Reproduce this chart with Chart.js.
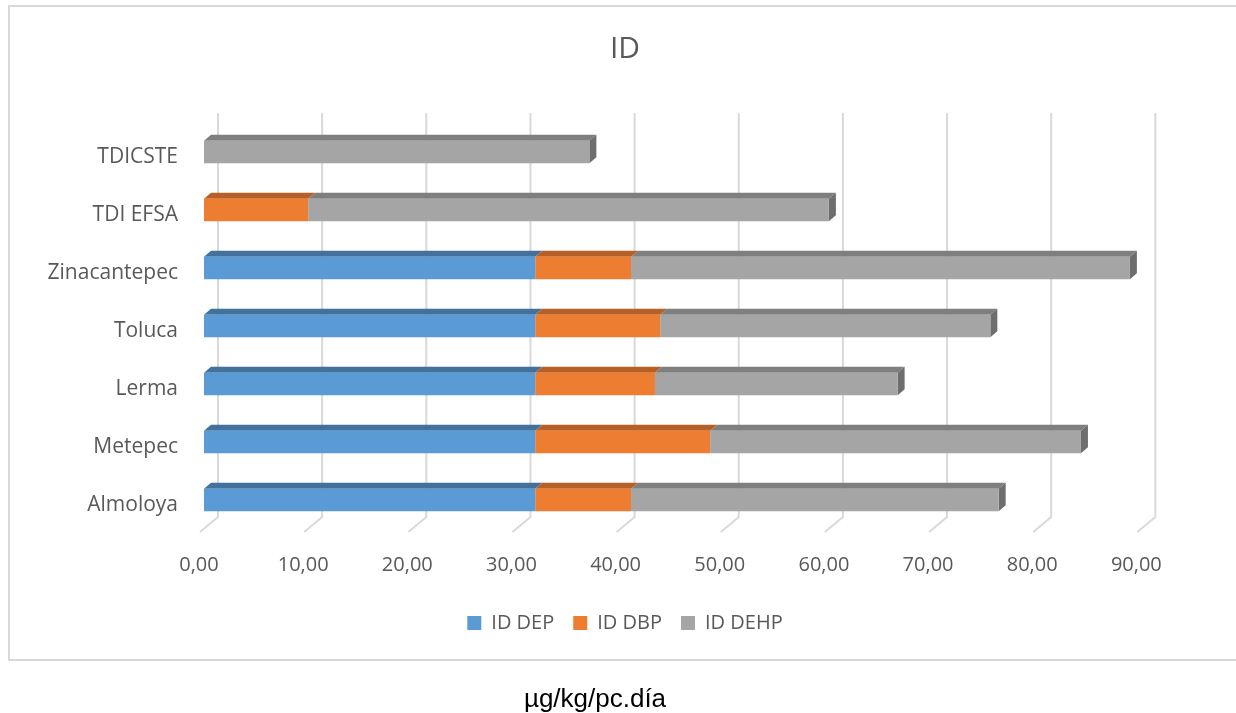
<!DOCTYPE html>
<html>
<head>
<meta charset="utf-8">
<title>ID</title>
<script src="https://cdn.jsdelivr.net/npm/chart.js"></script>
<style>
  html, body { margin: 0; padding: 0; background: #fff; overflow: hidden; }
  #frame { position: absolute; left: 8px; top: 5px; width: 1240px; height: 656px; border: 2px solid #d9d9d9; box-sizing: border-box; }
  #wrap { position: absolute; left: 0; top: 0; width: 1236px; height: 713px; }
  #unit { position: absolute; left: 0; width: 1190px; top: 685px; text-align: center;
          font: 26px/26px "Liberation Sans", Arial, sans-serif; color: #000; }
</style>
</head>
<body>
<div id="frame"></div>
<div id="wrap"><canvas id="myChart"></canvas></div>
<div id="unit">µg/kg/pc.día</div>
<script>
'use strict';

// data (Excel order, bottom to top)
const categories = ['Almoloya', 'Metepec', 'Lerma', 'Toluca', 'Zinacantepec', 'TDI EFSA', 'TDICSTE'];
const seriesNames = ['ID DEP', 'ID DBP', 'ID DEHP'];
const idDEP  = [31.8, 31.8, 31.8, 31.8, 31.8, 0, 0];
const idDBP  = [9.2, 16.8, 11.5, 12.0, 9.2, 10, 0];
const idDEHP = [35.3, 35.6, 23.3, 31.7, 47.9, 50, 37];
const xTickLabels = ['0,00', '10,00', '20,00', '30,00', '40,00', '50,00', '60,00', '70,00', '80,00', '90,00'];

const frontColors = ['#5b9bd5', '#ed7d31', '#a5a5a5'];
const topColors   = ['#41719c', '#b65f26', '#7f7f7f'];
const sideColors  = ['#33608a', '#9c4f1d', '#6e6e6e'];
const textColor = '#595959';
const depthX = 7, depthY = 6;

// fake the excel 3d look: back grid + top/side faces of the bars
const bars3d = {
  id: 'bars3d',
  beforeDatasetsDraw(chart) {
    const ctx = chart.ctx;
    const area = chart.chartArea;
    const xs = chart.scales.x;
    ctx.save();
    ctx.strokeStyle = '#d9d9d9';
    ctx.lineWidth = 2;
    xTickLabels.forEach(function (t, i) {
      const px = xs.getPixelForValue(i * 10);
      ctx.beginPath();
      ctx.moveTo(px + 14, area.top - 10);
      ctx.lineTo(px + 14, area.bottom - 12);
      ctx.lineTo(px - 4, area.bottom + 3);
      ctx.stroke();
    });

    for (let i = 0; i < categories.length; i++) {
      let last = -1;
      chart.data.datasets.forEach(function (ds, d) { if (ds.data[i] > 0) last = d; });
      chart.data.datasets.forEach(function (ds, d) {
        if (!(ds.data[i] > 0)) return;
        const bar = chart.getDatasetMeta(d).data[i];
        const yTop = bar.y - bar.height / 2;
        const yBot = bar.y + bar.height / 2;
        const x0 = Math.min(bar.base, bar.x);
        const x1 = Math.max(bar.base, bar.x);
        ctx.fillStyle = topColors[d];
        ctx.beginPath();
        ctx.moveTo(x0, yTop);
        ctx.lineTo(x1, yTop);
        ctx.lineTo(x1 + depthX, yTop - depthY);
        ctx.lineTo(x0 + depthX, yTop - depthY);
        ctx.closePath();
        ctx.fill();
        if (d === last) {
          ctx.fillStyle = sideColors[d];
          ctx.beginPath();
          ctx.moveTo(x1, yTop);
          ctx.lineTo(x1 + depthX, yTop - depthY);
          ctx.lineTo(x1 + depthX, yBot - depthY);
          ctx.lineTo(x1, yBot);
          ctx.closePath();
          ctx.fill();
        }
      });
    }
    ctx.restore();
  }
};

const seriesData = [idDEP, idDBP, idDEHP];
const datasets = seriesNames.map(function (name, d) {
  return {
    label: name,
    data: seriesData[d],
    backgroundColor: frontColors[d],
    borderWidth: 0,
    barPercentage: 0.39,
    categoryPercentage: 1
  };
});

const font = { family: '"Open Sans", sans-serif', size: 20 };

new Chart(document.getElementById('myChart'), {
  type: 'bar',
  data: { labels: categories, datasets: datasets },
  plugins: [bars3d],
  options: {
    indexAxis: 'y',
    responsive: true,
    maintainAspectRatio: false,
    animation: false,
    layout: { padding: { left: 14, right: 0, top: 0, bottom: 70 } },
    plugins: {
      title: {
        display: true,
        text: 'ID',
        color: textColor,
        font: { family: '"Open Sans", sans-serif', size: 30, weight: 'normal', lineHeight: 1.2 },
        padding: { top: 31, bottom: 56 }
      },
      legend: {
        position: 'bottom',
        labels: {
          color: textColor,
          font: font,
          boxWidth: 14,
          boxHeight: 14,
          padding: 19
        }
      },
      tooltip: { enabled: false }
    },
    scales: {
      x: {
        stacked: true,
        min: 0,
        max: 90,
        grid: { display: false, drawTicks: false },
        border: { display: false },
        ticks: {
          stepSize: 10,
          padding: 24,
          labelOffset: -5,
          color: textColor,
          font: font,
          callback: function (v, i) { return xTickLabels[i]; }
        },
        afterFit: function (s) { s.height = 65; }
      },
      y: {
        stacked: true,
        reverse: true,
        grid: { display: false, drawTicks: false },
        border: { display: false },
        ticks: { padding: 26, labelOffset: 5, color: textColor, font: { family: '"Open Sans", sans-serif', size: 21 } },
        afterFit: function (s) { s.width = 190; }
      },
      // empty axis on the right, only there to leave the blank strip
      yRight: {
        position: 'right',
        display: true,
        grid: { display: false, drawTicks: false },
        border: { display: false },
        ticks: { display: false },
        afterFit: function (s) { s.width = 94.65; }
      }
    }
  }
});
</script>
</body>
</html>
